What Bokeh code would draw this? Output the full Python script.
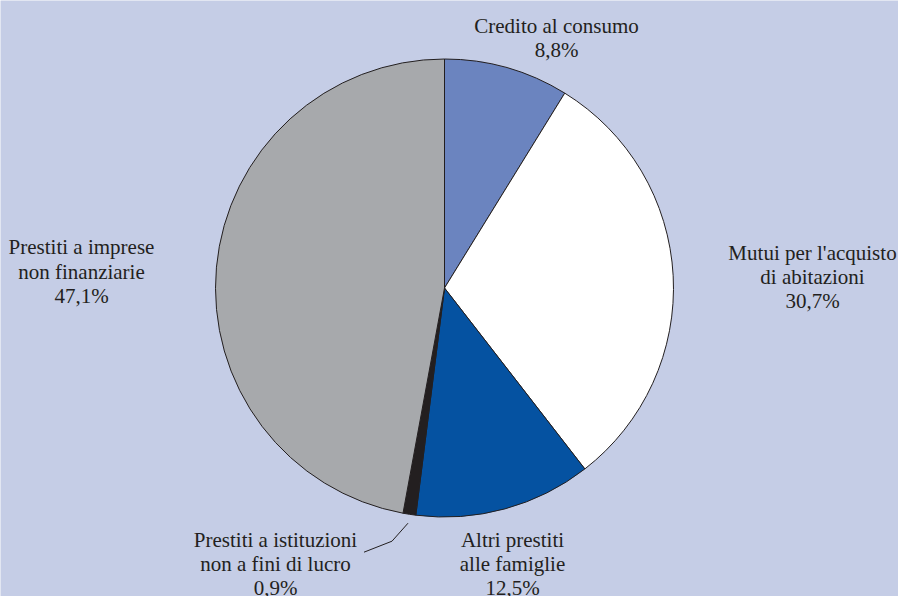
import math
from bokeh.plotting import figure
from bokeh.models import Range1d, ColumnDataSource
from bokeh.embed import file_html
from bokeh.resources import INLINE

# ---- data ----
categories = [
    "Credito al consumo",
    "Mutui per l'acquisto\ndi abitazioni",
    "Altri prestiti\nalle famiglie",
    "Prestiti a istituzioni\nnon a fini di lucro",
    "Prestiti a imprese\nnon finanziarie",
]
shares = [8.8, 30.7, 12.5, 0.9, 47.1]

# ---- styles / layout ----
colors = ["#6b84bf", "#ffffff", "#0552a1", "#231f20", "#a7a9ac"]
BG = "#c5cde6"
TXT = "#231f20"
LINE_H = 24.3

W, H = 898, 596
CX, CY, R = 444, 596 - 287.5, 229

# label block centres (page pixels -> data coords)
label_pos = [(556, 596 - 37.5), (812, 596 - 276.5), (512, 596 - 563.5),
             (275, 596 - 563.5), (81, 596 - 271)]

p = figure(width=W, height=H, output_backend="svg", toolbar_location=None,
           x_range=Range1d(0, W), y_range=Range1d(0, H),
           min_border=0, background_fill_color=BG, border_fill_color=BG,
           outline_line_color=None)
p.axis.visible = False
p.grid.visible = False

xs, ys, ts = [], [], []
for (lx, ly), c, v in zip(label_pos, categories, shares):
    lines = c.split("\n") + [f"{v:.1f}".replace(".", ",") + "%"]
    n = len(lines)
    for i, t in enumerate(lines):
        xs.append(lx)
        ys.append(ly + ((n - 1) / 2 - i) * LINE_H)
        ts.append(t)
lsrc = ColumnDataSource(dict(x=xs, y=ys, t=ts,
                             font=["Times New Roman"] * len(ts)))
p.text(x="x", y="y", text="t", source=lsrc, text_font="font",
       text_font_size="21px", text_color=TXT, text_align="center",
       text_baseline="middle")

total = sum(shares)
starts, ends, mids = [], [], []
cum = 0.0
for v in shares:
    a0 = math.pi / 2 - 2 * math.pi * cum / total
    cum += v
    a1 = math.pi / 2 - 2 * math.pi * cum / total
    starts.append(a0)
    ends.append(a1)
    mids.append((a0 + a1) / 2)

src = ColumnDataSource(dict(start=starts, end=ends, color=colors))
p.wedge(x=CX, y=CY, radius=R, start_angle="start", end_angle="end",
        direction="clock", fill_color="color", line_color="#231f20",
        line_width=1, source=src)

# leader line for the small slice
m = mids[3]
x0 = CX + (R + 9) * math.cos(m)
y0 = CY + (R + 9) * math.sin(m)
p.line(x=[x0, x0 - 16, x0 - 44], y=[y0, y0 - 18, y0 - 29],
       line_color=TXT, line_width=1)

open("out.html", "w").write(file_html(p, INLINE))
